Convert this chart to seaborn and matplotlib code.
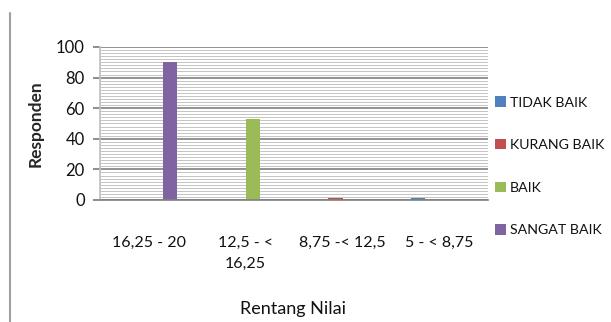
import matplotlib
matplotlib.use("Agg")
import matplotlib.pyplot as plt
import seaborn as sns
import pandas as pd
from matplotlib.lines import Line2D
from matplotlib.ticker import MultipleLocator

categories = ["16,25 - 20", "12,5 - <\n16,25", "8,75 -< 12,5", "5 - < 8,75"]
series = ["TIDAK BAIK", "KURANG BAIK", "BAIK", "SANGAT BAIK"]
tidak_baik = [0, 0, 0, 1]
kurang_baik = [0, 0, 1, 0]
baik = [0, 53, 0, 0]
sangat_baik = [90, 0, 0, 0]
colors = ["#4f81bd", "#c0504d", "#9bbb59", "#8064a2"]

rows = []
for s, vals in zip(series, [tidak_baik, kurang_baik, baik, sangat_baik]):
    for c, v in zip(categories, vals):
        rows.append({"Rentang Nilai": c, "Kategori": s, "Responden": v})
df = pd.DataFrame(rows)

sns.set_theme(style="white")
plt.rcParams['font.family'] = ['Lato', 'DejaVu Sans']
plt.rcParams['text.color'] = '#111111'

fig = plt.figure(figsize=(6.11, 3.22), dpi=100)
ax = fig.add_axes([100/611, 1 - 200/322, 388/611, 153/322])

sns.barplot(data=df, x="Rentang Nilai", y="Responden", hue="Kategori",
            hue_order=series, order=categories, palette=colors,
            width=0.58, gap=0.0, ax=ax, saturation=1, legend=True,
            linewidth=0)

ax.set_ylim(0, 100)
ax.yaxis.set_major_locator(MultipleLocator(20))
ax.yaxis.set_minor_locator(MultipleLocator(2))
ax.grid(which="minor", axis="y", color="#c4c4c4", linewidth=0.7)
ax.grid(which="major", axis="y", color="#808080", linewidth=1.2)
ax.set_axisbelow(True)
for side in ["top", "right"]:
    ax.spines[side].set_visible(False)
ax.spines["left"].set_color("#c0c0c0")
ax.spines["bottom"].set_color("#808080")
ax.spines["bottom"].set_linewidth(1.2)
ax.tick_params(axis="y", which="major", left=True, length=5, color="#808080",
               labelsize=12, pad=6, labelcolor="#111111")
ax.tick_params(axis="y", which="minor", left=False)
ax.tick_params(axis="x", bottom=False, labelsize=11.5, pad=20, labelcolor="#111111")
for lab in ax.get_xticklabels():
    lab.set_linespacing(1.6)

ax.set_ylabel("Responden", fontsize=12.5, fontweight="bold", labelpad=9)
ax.set_xlabel("")
fig.text(293/611, 1 - 309/322, "Rentang Nilai", ha="center", va="center", fontsize=13)

leg = ax.legend(loc="center left", bbox_to_anchor=(1.0, 0.22), frameon=False,
                fontsize=10.2, handlelength=0.75, handleheight=0.75,
                handletextpad=0.3, labelspacing=2.15, borderaxespad=0.1)

fig.add_artist(Line2D([10/611, 10/611], [0, 1 - 13/322], color="#a0a0a0",
                      linewidth=1.5, transform=fig.transFigure))

fig.savefig("out.png", dpi=100)
